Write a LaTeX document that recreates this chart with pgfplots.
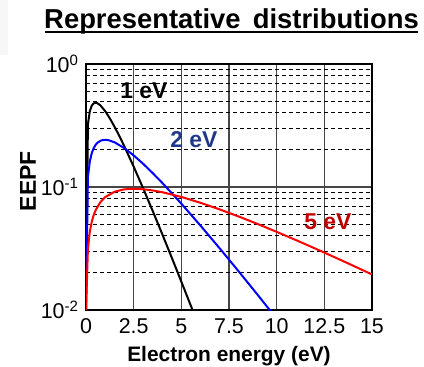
\documentclass[border=0pt]{standalone}
\usepackage{pgfplots}
\pgfplotsset{compat=1.18}
\usepackage{fontspec}
\setmainfont{Liberation Sans}
\definecolor{labblue}{RGB}{31,56,140}
\definecolor{labred}{RGB}{192,0,0}
\definecolor{gridgray}{RGB}{70,70,70}

% Maxwellian energy distributions, sampled values
\pgfplotstableread{
e f
0    0.0100
0.1  0.3229
0.2  0.4132
0.3  0.4579
0.4  0.4784
0.5  0.4839
0.6  0.4797
0.75 0.4616
1    0.4151
1.25 0.3614
1.5  0.3084
1.75 0.2594
2    0.2160
2.5  0.1465
3    0.09730
3.5  0.06375
4    0.04133
4.5  0.02659
5    0.01700
5.5  0.01082
6    0.006851
}\tone
\pgfplotstableread{
e f
0    0.0100
0.1  0.1200
0.2  0.1614
0.3  0.1881
0.4  0.2066
0.5  0.2197
0.6  0.2289
0.8  0.2392
1    0.2420
1.2  0.2398
1.5  0.2308
2    0.2076
2.5  0.1807
3    0.1542
3.5  0.1297
4    0.1080
5    0.07322
6    0.04865
7    0.03187
8    0.02067
9    0.01330
10   0.008500
}\ttwo
\pgfplotstableread{
e f
0    0.0100
0.1  0.03128
0.2  0.04337
0.3  0.05206
0.4  0.05892
0.5  0.06457
0.75 0.07523
1    0.08263
1.5  0.09157
2    0.09568
2.5  0.09679
3    0.09594
3.5  0.09376
4    0.09070
5    0.08302
6    0.07446
7    0.06585
8    0.05763
9    0.05005
10   0.04319
11   0.03709
12   0.03172
13   0.02703
14   0.02296
15   0.01946
}\tfive

\begin{document}
\begin{tikzpicture}[x=1bp,y=1bp]
\path[use as bounding box] (0,0) rectangle (424,367);
\fill[gray!6] (0,312) rectangle (8,367);
\node[font=\fontsize{27.5}{32}\selectfont\bfseries, anchor=base, inner sep=0pt] at (231.5,339) {Representative\, distributions};
\draw[line width=1.6bp] (45,335) -- (418,335);

\begin{axis}[
  at={(86bp,57bp)}, anchor=south west,
  scale only axis, width=286bp, height=246bp,
  xmin=0, xmax=15, ymin=0.01, ymax=1,
  ymode=log,
  xtick={0,2.5,5,7.5,10,12.5,15},
  xticklabels={0,2.5,5,7.5,10,12.5,15},
  ytick={0.01,0.1,1},
  yticklabels={10\textsuperscript{-2},10\textsuperscript{-1},10\textsuperscript{0}},
  minor ytick={0.02,0.03,0.04,0.05,0.06,0.07,0.08,0.09,0.2,0.3,0.4,0.5,0.6,0.7,0.8,0.9},
  xmajorgrids, ymajorgrids, yminorgrids,
  major grid style={gridgray, line width=1.6bp},
  minor grid style={black, dash pattern=on 4bp off 3bp, line width=1bp},
  tick style={draw=none},
  axis line style={black, line width=1.4bp},
  ticklabel style={font=\fontsize{21.5}{25}\selectfont},
  xticklabel style={yshift=-5bp},
  yticklabel style={xshift=-4bp},
  xlabel={Electron energy (eV)},
  ylabel={EEPF},
  xlabel style={font=\fontsize{21}{25}\selectfont\bfseries, at={(axis description cs:0.5,0)}, anchor=base, yshift=-51.7bp},
  ylabel style={font=\fontsize{23}{27}\selectfont\bfseries, at={(axis description cs:-0.2028,0.524)}, anchor=center},
  clip=true,
]
\addplot[black, line width=2bp] table[x=e, y=f] {\tone};
\addplot[blue, line width=2bp] table[x=e, y=f] {\ttwo};
\addplot[red, line width=2bp] table[x=e, y=f] {\tfive};
\node[font=\fontsize{23}{27}\selectfont\bfseries, text=black] at (axis cs:3.04,0.603) {1 eV};
\node[font=\fontsize{23}{27}\selectfont\bfseries, text=labblue] at (axis cs:5.66,0.241) {2 eV};
\node[font=\fontsize{23}{27}\selectfont\bfseries, text=labred] at (axis cs:12.69,0.0519) {5 eV};
\end{axis}
\end{tikzpicture}
\end{document}
